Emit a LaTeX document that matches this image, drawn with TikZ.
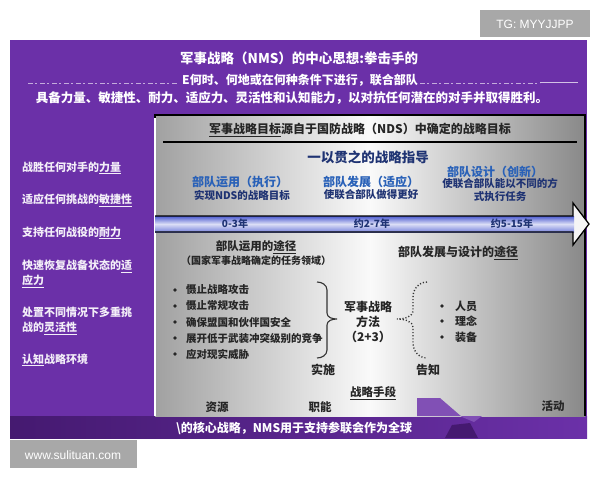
\documentclass[tikz,border=0pt]{standalone}
\usepackage{fontspec}
\setmainfont{Noto Sans CJK SC}
\newfontfamily\tagfont{Liberation Sans}
\usetikzlibrary{
  arrows.meta,
  positioning,
  calc
}
\usepackage{xcolor}
\definecolor{deepPurple}{rgb}{0.42,0.19,0.66}
\definecolor{darkPurple}{rgb}{0.27,0.10,0.44}
\definecolor{tagGray}{rgb}{0.66,0.66,0.66}
\definecolor{panelGray}{rgb}{0.63,0.63,0.63}
\definecolor{titleBlue}{rgb}{0.16,0.38,0.72}
\definecolor{navyBlue}{rgb}{0.12,0.20,0.45}
\definecolor{arrowBlue}{rgb}{0.30,0.36,0.82}
\tikzset{
  purpletext/.style={
    text=white,
    font=\bfseries\fontsize{12}{14}\selectfont
  },
  sidetext/.style={
    text=white!92!deepPurple,
    anchor=west,
    align=left,
    font=\bfseries\fontsize{11}{15}\selectfont
  },
  colhead/.style={
    text=titleBlue,
    font=\bfseries\fontsize{12}{14}\selectfont
  },
  colsub/.style={
    text=navyBlue,
    font=\bfseries\fontsize{10.5}{13.5}\selectfont
  },
  graytext/.style={
    text=black!85,
    font=\bfseries\fontsize{11.5}{14}\selectfont
  },
  tasktext/.style={
    text=black!85,
    anchor=west,
    font=\bfseries\fontsize{10.5}{12}\selectfont
  },
  bracepath/.style={
    line width=1.1pt,
    black!80
  },
  smudge/.style={
    white!60!deepPurple,
    line width=1pt,
    dash pattern=on 5pt off 2pt on 2pt off 3pt
  }
}

\begin{document}
\begin{tikzpicture}[
    x=1pt, y=-1pt,
    every node/.style={inner sep=0pt}
  ]
  \useasboundingbox (0,0) rectangle (600,480);
  \fill[white] (0,0) rectangle (600,480);

  % purple board
  \fill[deepPurple] (10,40) rectangle (587,438);
  \shade[left color=darkPurple, right color=deepPurple] (10,416) rectangle (587,438);

  % tags
  \fill[tagGray] (480,10) rectangle (590,37);
  \node[text=white, font=\tagfont\fontsize{12}{14}\selectfont] (tag) at (535,24) {TG: MYYJJPP};
  \fill[tagGray] (10,440) rectangle (137,468);
  \node[text=white, font=\tagfont\fontsize{12}{14}\selectfont] (site) at (73,455) {www.sulituan.com};

  % heading lines
  \node[purpletext, anchor=west, font=\bfseries\fontsize{13.5}{15}\selectfont] (title) at (180,58) {军事战略（NMS）的中心思想:拳击手的};
  \node[purpletext, anchor=west] (lineTwo) at (182,80) {E何时、何地或在何种条件下进行，联合部队};
  \draw[smudge] (28,83) -- (178,83);
  \draw[smudge] (420,83) -- (540,83);
  \draw[white!70!deepPurple, line width=0.8pt] (540,82) -- (578,82);
  \node[purpletext, font=\bfseries\fontsize{12.5}{14}\selectfont] (lineThree) at (292,98) {具备力量、敏捷性、耐力、适应力、灵活性和认知能力，以对抗任何潜在的对手并取得胜利。};

  % left column
  \node[sidetext] (side1) at (22,168) {战胜任何对手的\underline{力量}};
  \node[sidetext] (side2) at (22,200) {适应任何挑战的\underline{敏捷性}};
  \node[sidetext] (side3) at (22,233) {支持任何战役的\underline{耐力}};
  \node[sidetext] (side4) at (22,274) {快速恢复战备状态的\underline{适}\\\underline{应力}};
  \node[sidetext] (side5) at (22,321) {处置不同情况下多重挑\\战的\underline{灵活性}};
  \node[sidetext] (side6) at (22,360) {\underline{认知}战略环境};

  % gray panel
  \shade[left color=panelGray, right color=panelGray!85!black, middle color=white!96!gray] (155,115) rectangle (585,416);
  \draw[line width=1.2pt] (155,416) -- (155,115) -- (585,115) -- (585,416);
  \draw[white, line width=1.5pt] (155,118) -- (155,416);
  \fill[deepPurple!85!white] (417,416) -- (417,398) -- (440,398) -- (462,417) -- (474,422) -- (482,416) -- cycle;
  \fill[darkPurple] (445,438) -- (452,425) -- (470,423) -- (478,438) -- cycle;

  \node[graytext, font=\bfseries\fontsize{12}{14}\selectfont] (goalHead) at (360,130) {\underline{军事战略目标}源自于国防战略（NDS）中确定的战略目标};
  \draw[line width=1.2pt] (163,142) -- (577,142);
  \node[text=navyBlue, font=\bfseries\fontsize{13.5}{15}\selectfont] (guideHead) at (368,157) {一以贯之的战略指导};

  \node[colhead] (useHead) at (240,182) {部队运用（执行）};
  \node[colsub] (useSub) at (242,195) {实现NDS的战略目标};
  \node[colhead] (devHead) at (371,182) {部队发展（适应）};
  \node[colsub] (devSub) at (371,195) {使联合部队做得更好};
  \node[colhead] (designHead) at (495,172) {部队设计（创新）};
  \node[colsub, align=center] (designSub) at (500,190) {使联合部队能以不同的方\\式执行任务};

  % time arrow
  \fill[white!92!gray] (573,203) -- (589,224) -- (573,245) -- cycle;
  \shade[top color=arrowBlue, bottom color=arrowBlue!75, middle color=arrowBlue!20] (155,216) rectangle (574,232);
  \draw[line width=1.3pt, line join=miter] (155,216) -- (573,216) -- (573,203) -- (589,224) -- (573,245) -- (573,232) -- (155,232);
  \foreach \name/\xpos/\label in {year1/235/0-3年, year2/372/约2-7年, year3/512/约5-15年}{
    \node[colsub, font=\bfseries\fontsize{10}{12}\selectfont] (\name) at (\xpos,224) {\label};
  }

  % ways
  \node[graytext] (useWay) at (256,247) {部队运用的\underline{途径}};
  \node[graytext, font=\bfseries\fontsize{10}{12}\selectfont] (useWayNote) at (256,261) {（国家军事战略确定的任务领域）};
  \node[graytext, font=\bfseries\fontsize{12}{14}\selectfont] (devWay) at (458,253) {部队发展与设计的\underline{途径}};

  \foreach \i/\ypos/\task in {1/290/慑止战略攻击, 2/306/慑止常规攻击, 3/322/确保盟国和伙伴国安全, 4/338/展开低于武装冲突级别的竞争, 5/354/应对现实威胁}{
    \fill[black!85] (175,\ypos) circle (1.9);
    \node[tasktext] (task\i) at (186,\ypos) {\task};
  }

  \draw[bracepath] (317,282) to[out=0,in=90] (327,290) -- (327,313) to[out=270,in=180] (337,319) to[out=180,in=90] (327,325) -- (327,350) to[out=270,in=0] (317,358);

  \node[graytext, align=center, font=\bfseries\fontsize{12}{15}\selectfont] (ways) at (368,322) {军事战略\\方法\\（2+3）};

  \draw[bracepath, dotted, line width=1.4pt] (427,282) to[out=180,in=90] (413,297) -- (413,310) to[out=270,in=0] (397,319) to[out=0,in=90] (413,328) -- (413,343) to[out=270,in=180] (427,358);

  \foreach \i/\ypos/\item in {1/306/人员, 2/321/理念, 3/337/装备}{
    \fill[black!85] (442,\ypos) circle (1.9);
    \node[tasktext, font=\bfseries\fontsize{11}{12}\selectfont] (item\i) at (455,\ypos) {\item};
  }

  \node[graytext, font=\bfseries\fontsize{12}{14}\selectfont] (implement) at (323,370) {实施};
  \node[graytext, font=\bfseries\fontsize{12}{14}\selectfont] (inform) at (428,370) {告知};
  \node[graytext] (means) at (373,393) {\underline{战略手段}};
  \node[graytext] (resource) at (217,407) {资源};
  \node[graytext] (function) at (320,407) {职能};
  \node[graytext] (activity) at (553,406) {活动};

  % bottom strip
  \node[purpletext, anchor=west] (bottomText) at (176,428) {\textbackslash 的核心战略，NMS用于支持参联会作为全球};
\end{tikzpicture}
\end{document}
